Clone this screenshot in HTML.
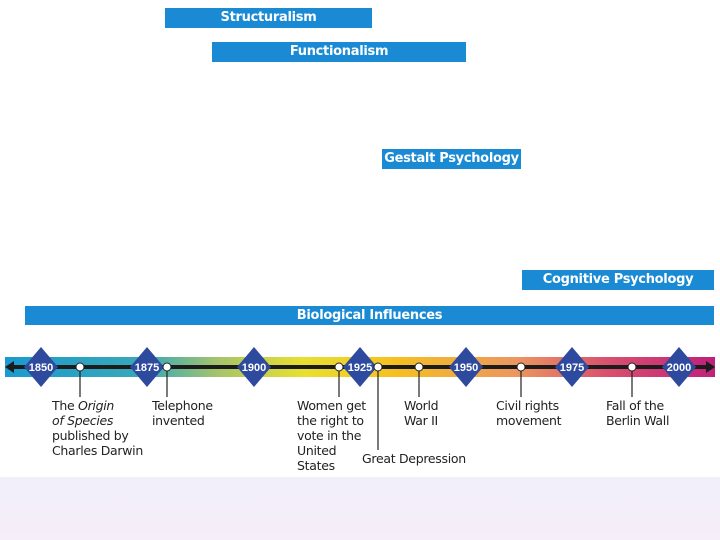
<!DOCTYPE html>
<html><head><style>
html,body{margin:0;width:720px;height:540px;overflow:hidden;background:#fff;font-family:"DejaVu Sans","Liberation Sans",sans-serif;position:relative}
.b{position:absolute;background:#1a8ad4;color:#fff;font-weight:bold;font-size:13px;text-align:center;line-height:20px;height:20px;letter-spacing:-0.3px}
.t{position:absolute;font-size:12.5px;line-height:15px;color:#222;letter-spacing:-0.3px}
</style></head><body>
<div class="b" style="left:165px;top:8px;width:207px;">Structuralism</div>
<div class="b" style="left:212px;top:42px;width:254px;">Functionalism</div>
<div class="b" style="left:382px;top:149px;width:139px;">Gestalt Psychology</div>
<div class="b" style="left:522px;top:270px;width:192px;">Cognitive Psychology</div>
<div class="b" style="left:25px;top:306px;width:689px;height:19px;line-height:19px">Biological Influences</div>
<div style="position:absolute;left:0;top:477px;width:720px;height:63px;background:linear-gradient(#f1effa,#f6eef8)"></div>
<svg width="720" height="140" style="position:absolute;left:0;top:340px" xmlns="http://www.w3.org/2000/svg">
<defs><linearGradient id="g" x1="0" x2="1"><stop offset="0" stop-color="#1a9ad0"/><stop offset="0.2" stop-color="#3aa9b8"/><stop offset="0.3" stop-color="#a6c46a"/><stop offset="0.42" stop-color="#e8e030"/><stop offset="0.55" stop-color="#f5c020"/><stop offset="0.72" stop-color="#ec9660"/><stop offset="0.85" stop-color="#d8506e"/><stop offset="1" stop-color="#c0207a"/></linearGradient></defs>
<rect x="5" y="17" width="710" height="20" fill="url(#g)"/>
<line x1="12" y1="27" x2="708" y2="27" stroke="#1c1c1c" stroke-width="4"/>
<polygon points="5,27 14,21 14,33" fill="#1c1c1c"/><polygon points="715,27 706,21 706,33" fill="#1c1c1c"/>
<g stroke="#222" stroke-width="1.2">
<line x1="80" y1="27" x2="80" y2="57"/><line x1="167" y1="27" x2="167" y2="57"/><line x1="339" y1="27" x2="339" y2="57"/><line x1="378" y1="27" x2="378" y2="110"/><line x1="419" y1="27" x2="419" y2="57"/><line x1="521" y1="27" x2="521" y2="57"/><line x1="632" y1="27" x2="632" y2="57"/>
</g>
<g fill="#2e4a9e">
<polygon points="41,7 58,27 41,47 24,27"/><polygon points="147,7 164,27 147,47 130,27"/><polygon points="254,7 271,27 254,47 237,27"/><polygon points="360,7 377,27 360,47 343,27"/><polygon points="466,7 483,27 466,47 449,27"/><polygon points="572,7 589,27 572,47 555,27"/><polygon points="679,7 696,27 679,47 662,27"/>
</g>
<g fill="#fff" font-size="11" font-weight="bold" text-anchor="middle" font-family="Liberation Sans,sans-serif">
<text x="41" y="31">1850</text><text x="147" y="31">1875</text><text x="254" y="31">1900</text><text x="360" y="31">1925</text><text x="466" y="31">1950</text><text x="572" y="31">1975</text><text x="679" y="31">2000</text>
</g>
<g fill="#fff" stroke="#222" stroke-width="1">
<circle cx="80" cy="27" r="4"/><circle cx="167" cy="27" r="4"/><circle cx="339" cy="27" r="4"/><circle cx="378" cy="27" r="4"/><circle cx="419" cy="27" r="4"/><circle cx="521" cy="27" r="4"/><circle cx="632" cy="27" r="4"/>
</g>
</svg>
<div class="t" style="left:52px;top:398px">The <i>Origin</i><br><i>of Species</i><br>published by<br>Charles Darwin</div>
<div class="t" style="left:152px;top:398px">Telephone<br>invented</div>
<div class="t" style="left:297px;top:398px">Women get<br>the right to<br>vote in the<br>United<br>States</div>
<div class="t" style="left:362px;top:451px">Great Depression</div>
<div class="t" style="left:404px;top:398px">World<br>War II</div>
<div class="t" style="left:496px;top:398px">Civil rights<br>movement</div>
<div class="t" style="left:606px;top:398px">Fall of the<br>Berlin Wall</div>
</body></html>
